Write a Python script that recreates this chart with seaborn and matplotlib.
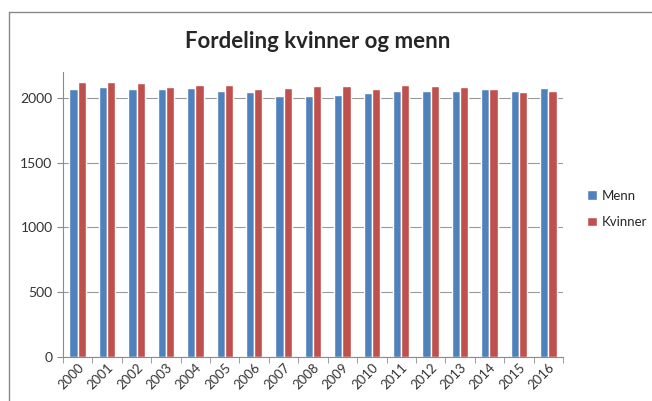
import pandas as pd
import matplotlib.pyplot as plt
import seaborn as sns
from matplotlib.lines import Line2D

years = [str(y) for y in range(2000, 2017)]
menn = [2072, 2085, 2072, 2066, 2077, 2051, 2046, 2018, 2018, 2025,
        2041, 2051, 2051, 2051, 2066, 2051, 2077]
kvinner = [2120, 2120, 2116, 2082, 2100, 2100, 2072, 2077, 2090, 2090,
           2072, 2100, 2090, 2085, 2072, 2046, 2051]
series = ['Menn', 'Kvinner']
colors = ['#4F81BD', '#C0504D']

df = pd.DataFrame({
    'year': years * 2,
    'value': menn + kvinner,
    'serie': ['Menn'] * len(years) + ['Kvinner'] * len(years),
})

sns.set_style('white')
plt.rcParams['font.family'] = ['Lato', 'DejaVu Sans']

fig = plt.figure(figsize=(6.52, 4.01), dpi=100)
ax = fig.add_axes([63 / 652, 1 - 357 / 401, 500 / 652, 285 / 401])

sns.barplot(data=df, x='year', y='value', hue='serie', hue_order=series,
            palette=colors, width=0.56, saturation=1, ax=ax, legend=True)

ax.set_xlim(-0.5, len(years) - 0.5)
ax.set_ylim(0, 2200)
ax.set_yticks([0, 500, 1000, 1500, 2000])
ax.yaxis.grid(True, color='#999999', linewidth=0.8)
ax.set_axisbelow(True)
ax.set_xlabel('')
ax.set_ylabel('')

for s in ['top', 'right']:
    ax.spines[s].set_visible(False)
for s in ['left', 'bottom']:
    ax.spines[s].set_color('#8c8c8c')
    ax.spines[s].set_linewidth(0.8)

# tick marks between categories, like Excel
ax.set_xticks([i - 0.5 for i in range(len(years) + 1)], minor=True)
ax.tick_params(axis='x', which='minor', length=4, color='#8c8c8c', bottom=True)
ax.tick_params(axis='x', which='major', length=0, labelsize=9.5, labelcolor='#333333', pad=3)
ax.tick_params(axis='y', length=4, color='#8c8c8c', left=True, labelsize=10, labelcolor='#333333')
plt.setp(ax.get_xticklabels(), rotation=45, ha='right', rotation_mode='anchor')

ax.legend(loc='center left', bbox_to_anchor=(1.025, 0.52), frameon=False,
          fontsize=9.5, handlelength=0.7, handleheight=0.7, handletextpad=0.4, labelspacing=1.1)

fig.text(318 / 652, 1 - 42 / 401, 'Fordeling kvinner og menn', ha='center', va='center',
         fontsize=16, fontweight='bold')

# outer chart border (cropped screenshot: only top and left visible)
fig.add_artist(Line2D([9 / 652, 1], [1 - 12 / 401] * 2, color='#888888', linewidth=1))
fig.add_artist(Line2D([9 / 652] * 2, [0, 1 - 12 / 401], color='#888888', linewidth=1))

fig.savefig('out.png', dpi=100)
